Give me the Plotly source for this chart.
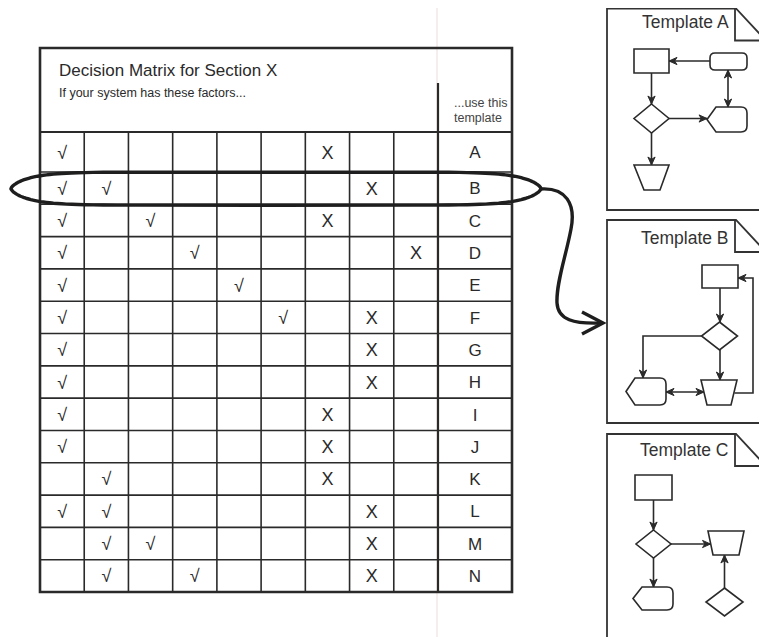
import plotly.graph_objects as go
import math

# ---------------- data ----------------
title = "Decision Matrix for Section X"
subtitle = "If your system has these factors..."
template_header = ["...use this", "template"]
row_labels = ["A", "B", "C", "D", "E", "F", "G", "H", "I", "J", "K", "L", "M", "N"]
# factor columns (1..9) holding a check mark, per row
check_cols = [[1], [1, 2], [1, 3], [1, 4], [1, 5], [1, 6], [1], [1], [1], [1],
              [2], [1, 2], [2, 3], [2, 4]]
# factor column (1..9) holding an X, per row (None = no X)
x_cols = [7, 8, 7, 9, None, 8, 8, 8, 7, 7, 7, 8, 8, 8]
templates = ["Template A", "Template B", "Template C"]
highlighted_row = "B"

# ---------------- layout geometry ----------------
W, H = 767, 637
OFF = 8  # page body margin compensation
INK = "#2a2a2a"
FONT = "Liberation Sans, Arial, sans-serif"

TL, TR, TT, TB = 40, 512, 48, 592
HDR_B, ROWA_B, SEP_X = 132, 172, 438
NF = 9
col_w = (SEP_X - TL) / NF
col_edges = [TL + i * col_w for i in range(NF + 1)]
row_edges = [HDR_B, ROWA_B] + [ROWA_B + k * (TB - ROWA_B) / (len(row_labels) - 1)
                               for k in range(1, len(row_labels))]
row_centers = [(row_edges[i] + row_edges[i + 1]) / 2 for i in range(len(row_labels))]
col_centers = [(col_edges[i] + col_edges[i + 1]) / 2 for i in range(NF)]

shapes = []


def line(x0, y0, x1, y1, w=1.6, color=INK, layer="above"):
    shapes.append(dict(type="line", xref="x", yref="y", x0=x0, y0=y0, x1=x1, y1=y1,
                       line=dict(color=color, width=w), layer=layer))


def path(d, w=1.6, color=INK, fill=None):
    s = dict(type="path", xref="x", yref="y", path=d, line=dict(color=color, width=w))
    if fill:
        s["fillcolor"] = fill
    shapes.append(s)


def head(tx, ty, fx, fy, L=8, hw=3.6):
    dx, dy = tx - fx, ty - fy
    n = math.hypot(dx, dy)
    ux, uy = dx / n, dy / n
    px, py = -uy, ux
    bx, by = tx - ux * L, ty - uy * L
    nx, ny = tx - ux * L * 0.7, ty - uy * L * 0.7
    d = (f"M {tx},{ty} L {bx + px * hw},{by + py * hw} L {nx},{ny} "
         f"L {bx - px * hw},{by - py * hw} Z")
    path(d, w=1, fill=INK)


def arrow(pts, both=False, w=1.6):
    d = "M " + " L ".join(f"{x},{y}" for x, y in pts)
    path(d, w=w)
    head(pts[-1][0], pts[-1][1], pts[-2][0], pts[-2][1])
    if both:
        head(pts[0][0], pts[0][1], pts[1][0], pts[1][1])


def rect(x0, y0, x1, y1):
    path(f"M {x0},{y0} L {x1},{y0} L {x1},{y1} L {x0},{y1} Z", fill="white")


def rrect(x0, y0, x1, y1, r=5):
    d = (f"M {x0 + r},{y0} L {x1 - r},{y0} Q {x1},{y0} {x1},{y0 + r} L {x1},{y1 - r} "
         f"Q {x1},{y1} {x1 - r},{y1} L {x0 + r},{y1} Q {x0},{y1} {x0},{y1 - r} "
         f"L {x0},{y0 + r} Q {x0},{y0} {x0 + r},{y0} Z")
    path(d, fill="white")


def diamond(cx, cy, w, h):
    path(f"M {cx},{cy - h / 2} L {cx + w / 2},{cy} L {cx},{cy + h / 2} L {cx - w / 2},{cy} Z",
         fill="white")


def trap(tx0, tx1, ty, bx0, bx1, by):
    path(f"M {tx0},{ty} L {tx1},{ty} L {bx1},{by} L {bx0},{by} Z", fill="white")


def display(x0, y0, x1, y1, pt=9, r=6):
    cy = (y0 + y1) / 2
    d = (f"M {x0},{cy} L {x0 + pt},{y0} L {x1 - r},{y0} Q {x1},{y0} {x1},{y0 + r} "
         f"L {x1},{y1 - r} Q {x1},{y1} {x1 - r},{y1} L {x0 + pt},{y1} Z")
    path(d, fill="white")


# faint page-fold line
line(437, 0, 437, H + OFF, w=1, color="rgba(200,150,160,0.35)", layer="below")

# ---------------- table ----------------
for x in col_edges[1:-1]:
    line(x, HDR_B, x, TB, w=1.6)
for y in row_edges[1:-1]:
    line(TL, y, TR, y, w=1.6)
line(SEP_X, 83, SEP_X, TB, w=2.2)
line(TL, HDR_B, TR, HDR_B, w=2.2)
path(f"M {TL},{TT} L {TR},{TT} L {TR},{TB} L {TL},{TB} Z", w=2.6)

# ---------------- highlight ellipse around row B ----------------
hi = row_labels.index(highlighted_row)
ecx, ecy, ea, eb = 276, row_centers[hi] + 0.5, 265, 16.5
pts = []
N = 160
for k in range(N + 1):
    t = 2 * math.pi * k / N
    c, s = math.cos(t), math.sin(t)
    x = ecx + ea * math.copysign(abs(c) ** (2 / 10), c)
    y = ecy + eb * math.copysign(abs(s) ** (2 / 1.5), s)
    pts.append((x, y))
path("M " + " L ".join(f"{x:.1f},{y:.1f}" for x, y in pts) + " Z", w=3.4, color="#1e1e1e")

# curvy connector to Template B
path("M 540,189 C 566,187 576,204 571,229 C 566,256 556,283 557,303 "
     "C 558,320 574,324 601,323", w=3.4, color="#1e1e1e")
path("M 582,312 L 603,323 L 582,334", w=3.4, color="#1e1e1e")

# ---------------- template panels ----------------
panel_tops = [8.5, 220, 434]
panel_bots = [210, 423, 660]
for top, bot in zip(panel_tops, panel_bots):
    path(f"M 790,{bot} L 607,{bot} L 607,{top} L 736,{top} L 790,{top + 54 * 1.07}", w=1.8,
         color="#333333")
    path(f"M 735,{top} L 735,{top + 32} L 790,{top + 32}", w=1.8, color="#333333")

# Template A diagram
rect(634, 49, 669, 73)
rrect(710, 53, 747, 70)
arrow([(710, 61), (669, 61)])
arrow([(651.5, 73), (651.5, 104)])
diamond(651.5, 118.5, 35, 29)
arrow([(728, 70), (728, 107)], both=True)
display(707, 107, 747, 132)
arrow([(669, 118.5), (707, 118.5)])
arrow([(651.5, 133), (651.5, 165)])
trap(634, 669, 165, 644, 660, 190)

# Template B diagram
rect(702, 265, 738, 288)
arrow([(720, 288), (720, 322)])
diamond(719.5, 336, 36, 28)
arrow([(701.5, 336), (643, 336), (643, 378)])
display(626, 378, 666, 405)
arrow([(720, 350), (720, 380)])
trap(701, 737, 380, 707, 731, 405)
arrow([(666, 392), (704, 392)], both=True)
arrow([(734.5, 393), (753, 393), (753, 278), (738, 278)])

# Template C diagram
rect(635, 475, 672, 500)
arrow([(653.5, 500), (653.5, 530)])
diamond(653.5, 544, 35, 28)
arrow([(671, 544), (710.5, 544)])
trap(708, 744, 531, 713, 739, 555)
arrow([(653.5, 558), (653.5, 587)])
display(633, 587, 673, 610)
diamond(724.5, 602, 37, 28)
arrow([(724.5, 588), (724.5, 555)])

# ---------------- traces (marks drawn from data) ----------------
mx, my, mt = [], [], []
for r, (cols, xc) in enumerate(zip(check_cols, x_cols)):
    for c in cols:
        mx.append(col_centers[c - 1]); my.append(row_centers[r] + 2); mt.append("√")
    if xc is not None:
        mx.append(col_centers[xc - 1]); my.append(row_centers[r] + 2); mt.append("X")

fig = go.Figure()
fig.add_trace(go.Scatter(x=mx, y=my, text=mt, mode="text", hoverinfo="skip",
                         textfont=dict(family=FONT, size=18, color=INK), showlegend=False))
fig.add_trace(go.Scatter(x=[(SEP_X + TR) / 2] * len(row_labels),
                         y=[c + 2 for c in row_centers], text=row_labels, mode="text",
                         hoverinfo="skip", showlegend=False,
                         textfont=dict(family=FONT, size=17, color=INK)))

annotations = [
    dict(x=57, y=70, text=title, xanchor="left", yanchor="middle",
         font=dict(family=FONT, size=17, color=INK)),
    dict(x=57, y=93, text=subtitle, xanchor="left", yanchor="middle",
         font=dict(family=FONT, size=12.5, color=INK)),
    dict(x=452, y=103, text=template_header[0], xanchor="left", yanchor="middle",
         font=dict(family=FONT, size=12.5, color="#444444")),
    dict(x=452, y=118, text=template_header[1], xanchor="left", yanchor="middle",
         font=dict(family=FONT, size=12.5, color="#444444")),
]
for name, top in zip(templates, panel_tops):
    annotations.append(dict(x=731, y=[22, 238, 450][panel_tops.index(top)], text=name,
                            xanchor="right", yanchor="middle",
                            font=dict(family=FONT, size=17.5, color="#333333")))
for a in annotations:
    a.update(xref="x", yref="y", showarrow=False)

fig.update_layout(
    width=W, height=H, autosize=False,
    margin=dict(l=0, r=0, t=0, b=0),
    paper_bgcolor="white", plot_bgcolor="white",
    xaxis=dict(range=[OFF, W + OFF], visible=False, fixedrange=True),
    yaxis=dict(range=[H + OFF, OFF], visible=False, fixedrange=True),
    shapes=shapes, annotations=annotations, showlegend=False,
)
fig.write_html("out.html", config={"displayModeBar": False})
